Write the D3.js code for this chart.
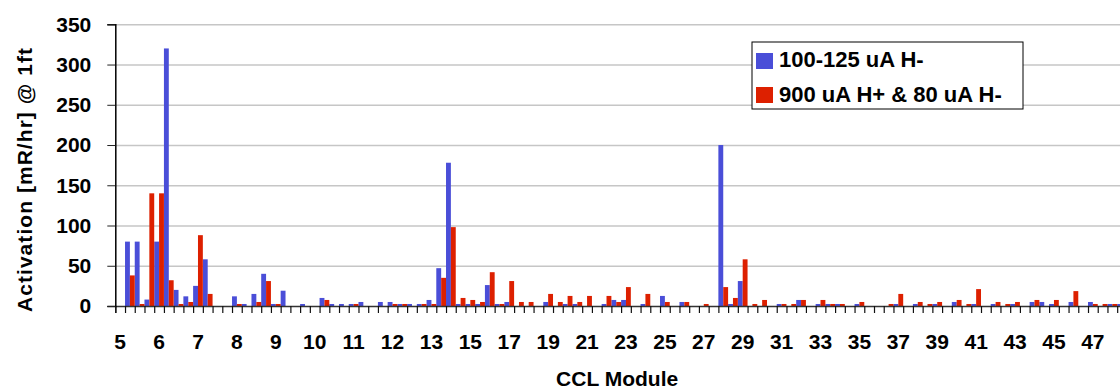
<!DOCTYPE html>
<html>
<head>
<meta charset="utf-8">
<script src="https://cdn.jsdelivr.net/npm/d3@7/dist/d3.min.js"></script>
<style>
  html, body { margin: 0; padding: 0; background: #fff; overflow: hidden; }
  svg { display: block; font-family: "Liberation Sans", Arial, sans-serif; font-weight: bold; }
</style>
</head>
<body>
<div id="chart"></div>
<script>
// one entry per tank, labelled with its CCL module
const modules = [5,5,5,5,6,6,6,6,7,7,7,7,8,8,8,8,9,9,9,9,10,10,10,10,11,11,11,11,12,12,12,12,
  13,13,14,14,15,15,16,16,17,17,18,18,19,19,20,20,21,21,22,22,23,23,24,24,25,25,26,26,27,27,28,28,
  29,29,30,30,31,31,32,32,33,33,34,34,35,35,36,36,37,37,38,38,39,39,40,40,41,41,42,42,43,43,44,44,
  45,45,46,46,47,47,48,48];

const seriesNames = ["100-125 uA H-", "900 uA H+ & 80 uA H-"];

const lowCurrent = [0,80,80,8,80,320,20,12,25,58,0,0,12,2.5,15,40,2.5,19,0,2.5,
  0,10,2.5,2.5,2.5,5,0,5,5,2.5,2.5,2.5,7.5,47,178,2.5,2.5,2.5,26,2.5,
  5,0,0,0,5,0,2.5,2.5,0,0,2.5,7.5,7.5,0,2.5,0,12.5,0,5,0,
  0,0,200,2.5,31,0,0,0,2.5,0,7.5,0,2.5,2.5,2.5,0,2.5,0,0,0,
  2.5,0,2.5,0,2.5,0,5,0,2.5,0,2.5,0,2.5,0,5,5,2.5,0,5,0,
  5,0,2.5,2.5];

const highCurrent = [0,38,2.5,140,140,32,2.5,5,88,15,0,0,2.5,0,5,31,2.5,0,0,0,
  0,7.5,0,0,2.5,0,0,0,2.5,2.5,0,2.5,2.5,35,98,10,7.5,5,42,2.5,
  31,5,5,0,15,5,12.5,5,12.5,0,12.5,5,23.5,0,15,0,5,0,5,0,
  2.5,0,23.5,10,58,2.5,7.5,0,2.5,2.5,7.5,0,7.5,2.5,2.5,0,5,0,0,2.5,
  15,0,5,2.5,5,0,7.5,2.5,21,0,5,2.5,5,0,7.5,0,7.5,0,18.5,0,
  2.5,2.5,2.5,0];

const yTicks = [0, 50, 100, 150, 200, 250, 300, 350];
const colors = ["#4a4ed8", "#dd2000"];

const W = 1120, H = 392;
const plotLeft = 115.3, plotTop = 24.3, plotBottom = 306;
const step = 9.727;
const plotRight = plotLeft + step * modules.length;

const svg = d3.select("#chart").append("svg")
  .attr("width", W).attr("height", H);

const idx = d3.range(modules.length);

const x = d3.scaleBand().domain(idx).range([plotLeft, plotRight]).paddingInner(0).paddingOuter(0);
const xs = d3.scaleBand().domain([0, 1]).range([0, x.bandwidth()]);
const y = d3.scaleLinear().domain([0, 350]).range([plotBottom, plotTop]);

// gridlines
svg.append("g")
  .attr("transform", `translate(${plotLeft},0)`)
  .call(d3.axisLeft(y).tickValues(yTicks.filter(v => v > 0)).tickSize(-(plotRight - plotLeft)).tickFormat(""))
  .call(g => g.select(".domain").remove())
  .call(g => g.selectAll("line").attr("stroke", "#c6c6c6").attr("stroke-width", 1.5));

// bars
const series = [lowCurrent, highCurrent];
series.forEach((vals, s) => {
  svg.append("g").selectAll("rect")
    .data(vals)
    .join("rect")
    .attr("x", (d, i) => x(i) + xs(s))
    .attr("y", d => y(d))
    .attr("width", xs.bandwidth())
    .attr("height", d => y(0) - y(d))
    .attr("fill", colors[s]);
});

// category boundary ticks
const xb = d3.scaleLinear().domain([0, modules.length]).range([plotLeft, plotRight]);
svg.append("g")
  .attr("transform", `translate(0,${plotBottom})`)
  .call(d3.axisBottom(xb).tickValues(d3.range(modules.length + 1)).tickSize(7).tickFormat(""))
  .call(g => g.select(".domain").attr("stroke", "#333").attr("stroke-width", 1.5))
  .call(g => g.selectAll(".tick line").attr("stroke", "#111").attr("stroke-width", 1.2));

// module labels every fourth tank
svg.append("g")
  .attr("transform", `translate(0,${plotBottom})`)
  .call(d3.axisBottom(x).tickValues(idx.filter(i => i % 4 === 0)).tickSize(0).tickPadding(28)
    .tickFormat(i => modules[i]))
  .call(g => g.select(".domain").remove())
  .call(g => g.selectAll("text").attr("font-size", 21).attr("font-family", null).attr("fill", "#000"));

// y axis
svg.append("g")
  .attr("transform", `translate(${plotLeft},0)`)
  .call(d3.axisLeft(y).tickValues(yTicks).tickSize(8).tickPadding(16))
  .call(g => g.select(".domain").attr("stroke", "#000").attr("stroke-width", 1.5))
  .call(g => g.selectAll(".tick line").attr("stroke", "#222"))
  .call(g => g.selectAll("text").attr("font-size", 21).attr("font-family", null).attr("fill", "#000"));

// titles
svg.append("text")
  .attr("transform", "translate(32,180) rotate(-90)")
  .attr("text-anchor", "middle")
  .attr("font-size", 21)
  .attr("textLength", 264)
  .text("Activation [mR/hr] @ 1ft");

svg.append("text")
  .attr("x", (plotLeft + plotRight) / 2 - 4).attr("y", 386)
  .attr("text-anchor", "middle")
  .attr("font-size", 21)
  .text("CCL Module");

// legend
const lg = svg.append("g").attr("transform", "translate(752,42)");
lg.append("rect").attr("width", 271).attr("height", 67)
  .attr("fill", "#fff").attr("stroke", "#000").attr("stroke-width", 1);
seriesNames.forEach((name, i) => {
  lg.append("rect").attr("x", 4).attr("y", 11 + i * 34).attr("width", 17).attr("height", 16)
    .attr("fill", colors[i]);
  lg.append("text").attr("x", 27).attr("y", 25 + i * 34.5)
    .attr("font-size", 22).text(name);
});
</script>
</body>
</html>
